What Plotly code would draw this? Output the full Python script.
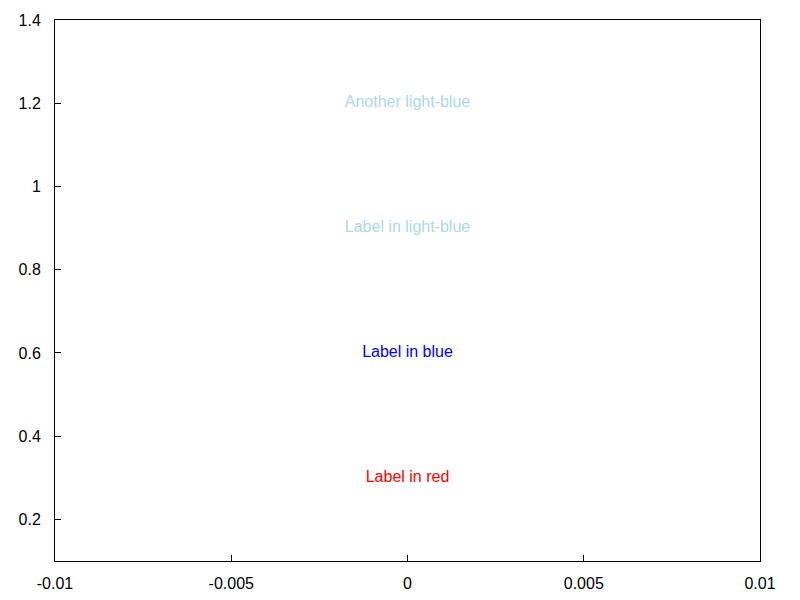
import plotly.graph_objects as go

label_texts = ["Label in red", "Label in blue", "Label in light-blue", "Another light-blue"]
label_x = [0, 0, 0, 0]
label_y = [0.3, 0.6, 0.9, 1.2]
label_colors = ["red", "blue", "lightblue", "lightblue"]

x_ticks = [-0.01, -0.005, 0, 0.005, 0.01]
x_tick_text = ["-0.01", "-0.005", "0", "0.005", "0.01"]
y_ticks = [0.2, 0.4, 0.6, 0.8, 1.0, 1.2, 1.4]
y_tick_text = ["0.2", "0.4", "0.6", "0.8", "1", "1.2", "1.4"]

font_family = "Liberation Sans, Arial"

fig = go.Figure(go.Scatter(
    x=label_x, y=label_y, mode="text", text=label_texts,
    textposition="middle center",
    textfont=dict(color=label_colors, size=16, family=font_family),
    hoverinfo="skip", showlegend=False,
))

axis_style = dict(
    showgrid=False, zeroline=False, showline=True, linecolor="black", linewidth=1,
    mirror=True, ticks="inside", ticklen=6, tickcolor="black", automargin=False,
    tickfont=dict(size=16, color="black", family=font_family),
)
fig.update_xaxes(range=[-0.01, 0.01], tickvals=x_ticks, ticktext=x_tick_text,
                 ticklabelstandoff=8, **axis_style)
fig.update_yaxes(range=[0.1, 1.4], tickvals=y_ticks, ticktext=y_tick_text,
                 ticklabelstandoff=10, **axis_style)

# page body has an 8px default margin, so margins are shifted to compensate
fig.update_layout(
    width=800, height=600,
    margin=dict(l=47, r=48, t=12, b=47),
    plot_bgcolor="white", paper_bgcolor="white",
)
fig.write_html("out.html")
